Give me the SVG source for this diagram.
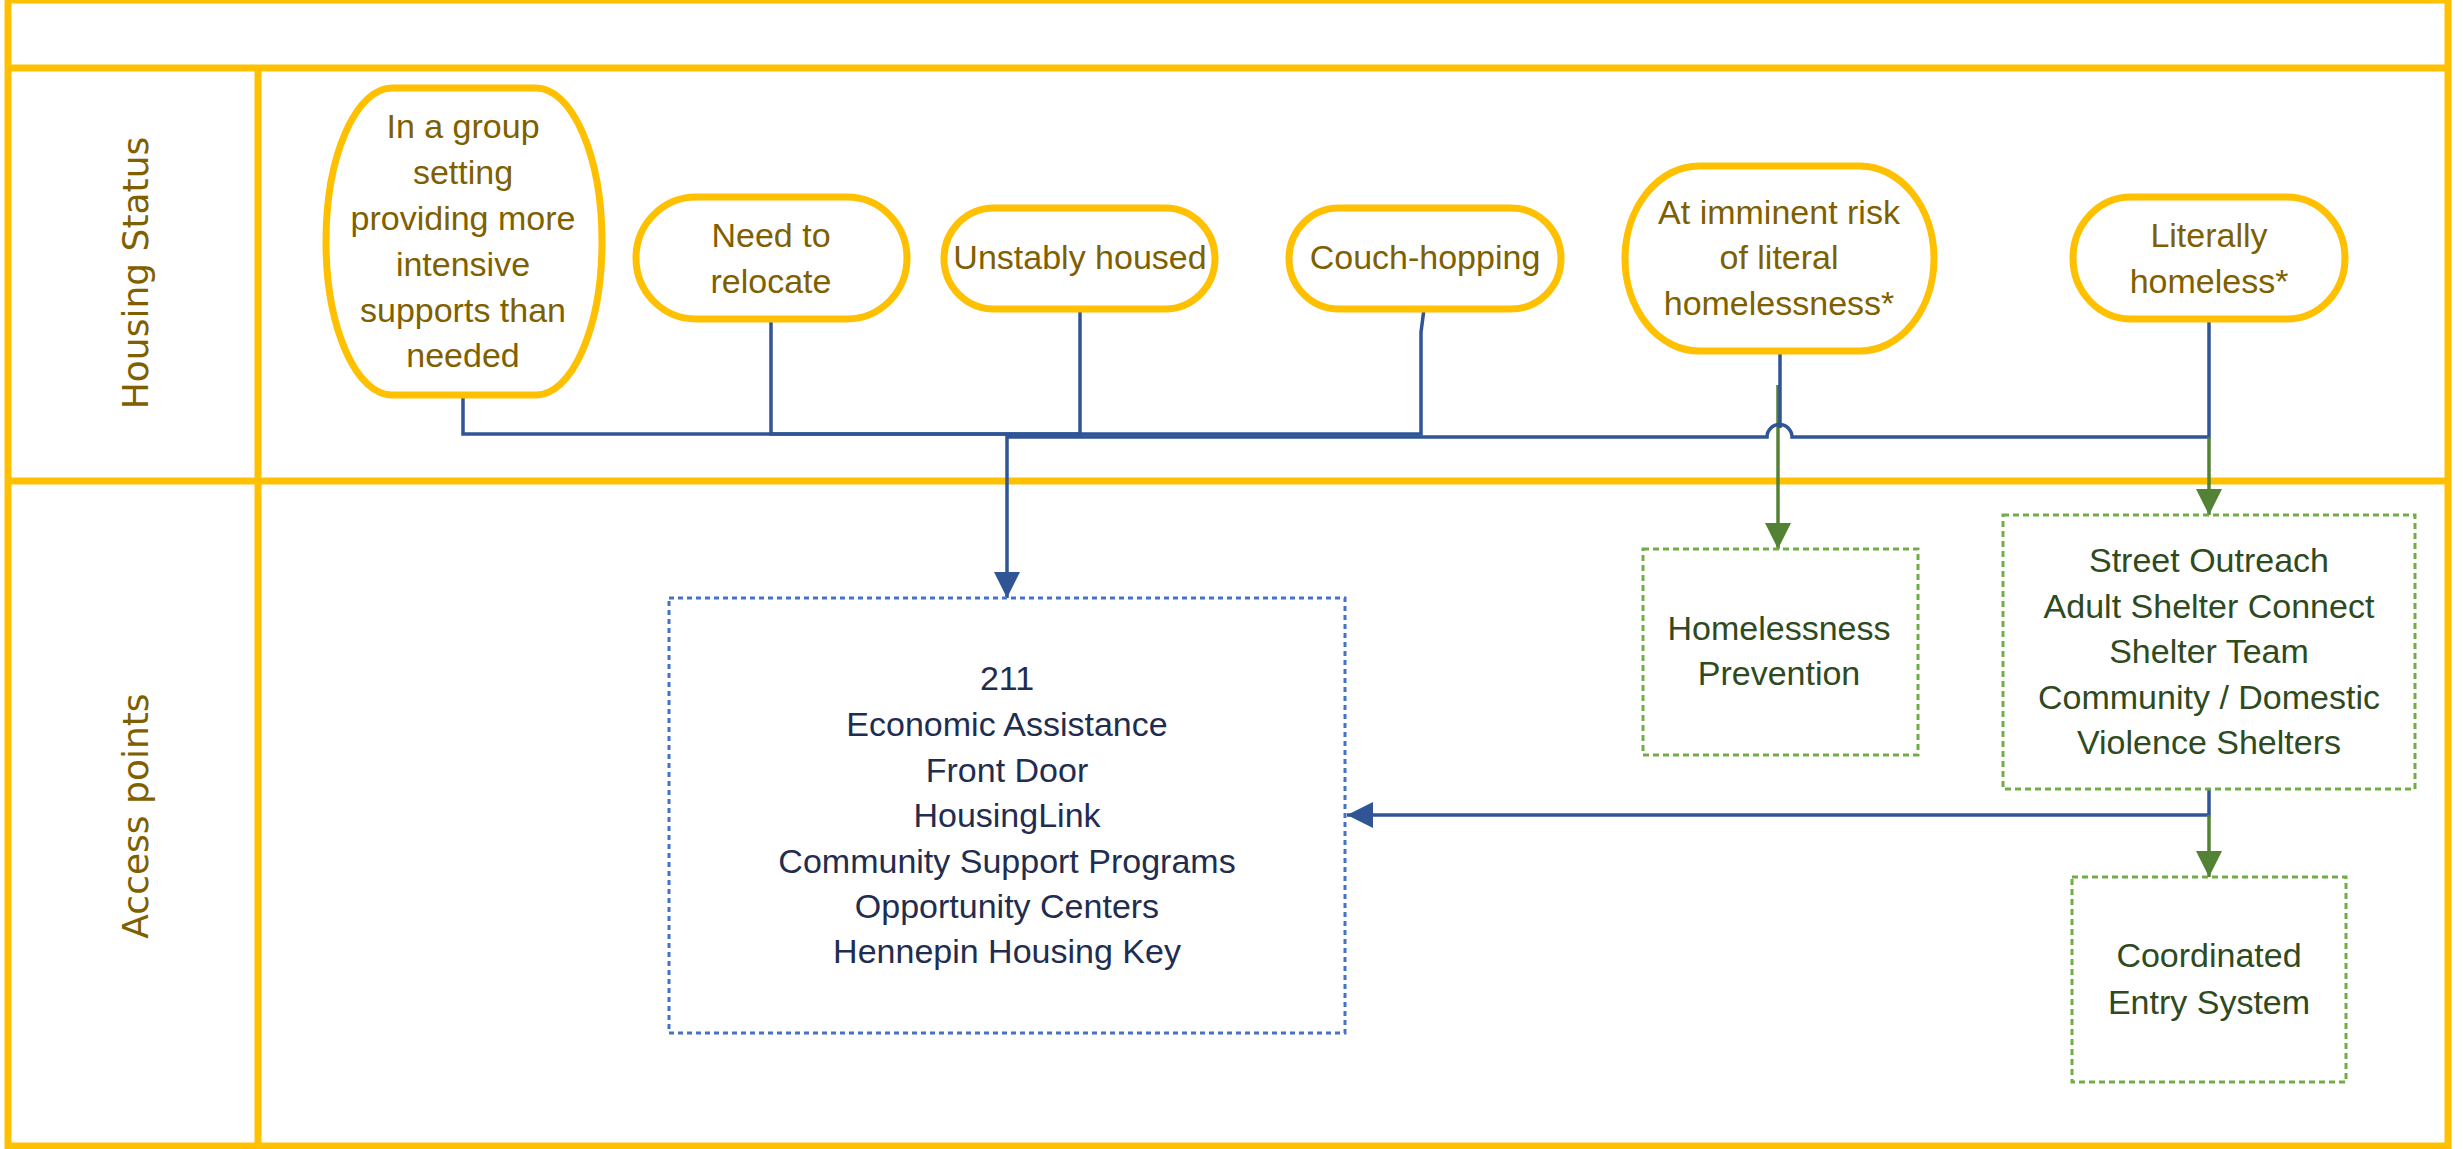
<svg xmlns="http://www.w3.org/2000/svg" width="2463" height="1149" viewBox="0 0 2463 1149">
<defs>
<style>
.lane{fill:none;stroke:#FFC000;stroke-width:7}
.lanetxt{font-family:"DejaVu Sans","Verdana",sans-serif;font-size:36px;fill:#7F6000;text-anchor:middle}
.status rect{fill:#FFFFFF;stroke:#FFC000;stroke-width:7}
.status text{font-family:"Liberation Sans",Arial,sans-serif;font-size:34px;fill:#7F6000;text-anchor:middle}
.blue rect{fill:#FFFFFF;stroke:#4472C4;stroke-width:3;stroke-dasharray:5 4}
.blue text{font-family:"Liberation Sans",Arial,sans-serif;font-size:34px;fill:#1F2D50;text-anchor:middle}
.green rect{fill:#FFFFFF;stroke:#70AD47;stroke-width:3;stroke-dasharray:6 4}
.green text{font-family:"Liberation Sans",Arial,sans-serif;font-size:34px;fill:#2E4A1E;text-anchor:middle}
.cb{fill:none;stroke:#2F5597;stroke-width:3.5}
.cg{fill:none;stroke:#548235;stroke-width:3.5}
</style>
<marker id="ab" markerUnits="userSpaceOnUse" viewBox="0 0 26 26" markerWidth="26" markerHeight="26" refX="26" refY="13" orient="auto"><path d="M0,0 L26,13 L0,26 Z" fill="#2F5597"/></marker>
<marker id="ag" markerUnits="userSpaceOnUse" viewBox="0 0 26 26" markerWidth="26" markerHeight="26" refX="26" refY="13" orient="auto"><path d="M0,0 L26,13 L0,26 Z" fill="#548235"/></marker>
</defs>
<rect width="2463" height="1149" fill="#FFFFFF"/>
<g id="swimlanes">
<rect class="lane" x="8" y="0" width="2440" height="1146"/>
<line class="lane" x1="8" y1="68" x2="2448" y2="68"/>
<line class="lane" x1="8" y1="481" x2="2448" y2="481"/>
<line class="lane" x1="258" y1="68" x2="258" y2="1146"/>
<text class="lanetxt" transform="translate(148,273) rotate(-90)" x="0" y="0">Housing Status</text>
<text class="lanetxt" transform="translate(148,816) rotate(-90)" x="0" y="0">Access points</text>
</g>
<g id="connectors">
<path class="cb" d="M463,395 V434 H1007"/>
<path class="cb" d="M771,319 V434 H1007"/>
<path class="cb" d="M1080,309 V434 H1007"/>
<path class="cb" d="M1424,309 L1421,332 V434 H1007"/>
<path class="cg" d="M1778,385 V549" marker-end="url(#ag)"/>
<path class="cb" d="M1780,352 V428"/>
<path class="cb" d="M2209,319 V437 H1792 A12.5 12.5 0 0 0 1767,437 H1007 V598" marker-end="url(#ab)"/>
<path class="cg" d="M2209,437 V515" marker-end="url(#ag)"/>
<path class="cb" d="M2209,789 V815 H1347" marker-end="url(#ab)"/>
<path class="cg" d="M2209,815 V877" marker-end="url(#ag)"/>
</g>
<g id="node-group-setting" class="status">
<rect x="326" y="88" width="276" height="307" rx="66" ry="153.5"/>
<text x="463" y="138">In a group</text>
<text x="463" y="184">setting</text>
<text x="463" y="230">providing more</text>
<text x="463" y="276">intensive</text>
<text x="463" y="322">supports than</text>
<text x="463" y="367">needed</text>
</g>
<g id="node-relocate" class="status">
<rect x="636" y="197" width="271" height="122" rx="60" ry="61"/>
<text x="771" y="247">Need to</text>
<text x="771" y="293">relocate</text>
</g>
<g id="node-unstably" class="status">
<rect x="944" y="208" width="271" height="101" rx="50" ry="50.5"/>
<text x="1080" y="269">Unstably housed</text>
</g>
<g id="node-couch" class="status">
<rect x="1289" y="208" width="272" height="101" rx="50" ry="50.5"/>
<text x="1425" y="269">Couch-hopping</text>
</g>
<g id="node-imminent" class="status">
<rect x="1625" y="166" width="309" height="185" rx="74" ry="92.5"/>
<text x="1779" y="224">At imminent risk</text>
<text x="1779" y="269">of literal</text>
<text x="1779" y="315">homelessness*</text>
</g>
<g id="node-literally" class="status">
<rect x="2073" y="197" width="272" height="122" rx="58" ry="61"/>
<text x="2209" y="247">Literally</text>
<text x="2209" y="293">homeless*</text>
</g>
<g id="node-access" class="blue">
<rect x="669" y="598" width="676" height="435"/>
<text x="1007" y="690">211</text>
<text x="1007" y="736">Economic Assistance</text>
<text x="1007" y="782">Front Door</text>
<text x="1007" y="827">HousingLink</text>
<text x="1007" y="873">Community Support Programs</text>
<text x="1007" y="918">Opportunity Centers</text>
<text x="1007" y="963">Hennepin Housing Key</text>
</g>
<g id="node-prevention" class="green">
<rect x="1643" y="549" width="275" height="206"/>
<text x="1779" y="640">Homelessness</text>
<text x="1779" y="685">Prevention</text>
</g>
<g id="node-outreach" class="green">
<rect x="2003" y="515" width="412" height="274"/>
<text x="2209" y="572">Street Outreach</text>
<text x="2209" y="618">Adult Shelter Connect</text>
<text x="2209" y="663">Shelter Team</text>
<text x="2209" y="709">Community / Domestic</text>
<text x="2209" y="754">Violence Shelters</text>
</g>
<g id="node-ces" class="green">
<rect x="2072" y="877" width="274" height="205"/>
<text x="2209" y="967">Coordinated</text>
<text x="2209" y="1014">Entry System</text>
</g>
</svg>
